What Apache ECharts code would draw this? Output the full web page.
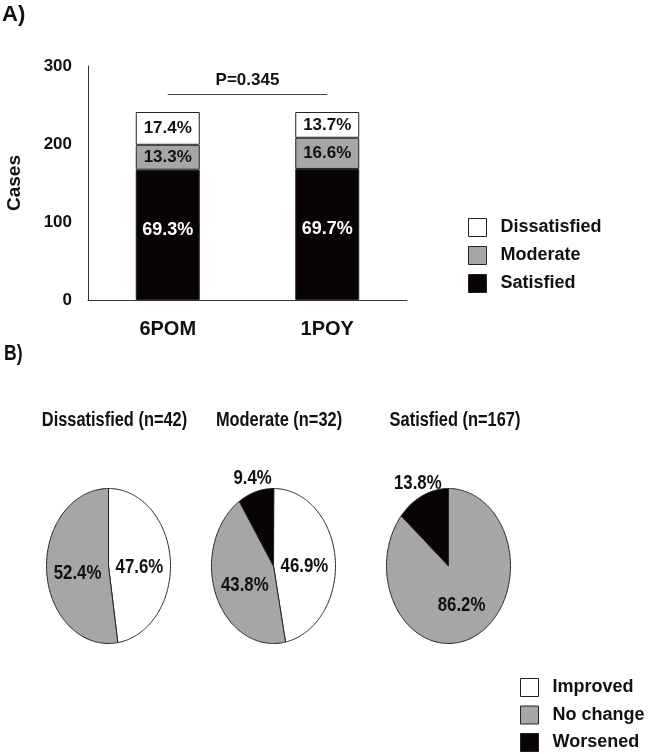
<!DOCTYPE html>
<html><head><meta charset="utf-8">
<script src="https://cdn.jsdelivr.net/npm/echarts@6/dist/echarts.min.js"></script>
<style>html,body{margin:0;padding:0;background:#fff}#c{width:649px;height:754px}</style>
</head><body><div id="c"></div>
<script>
// ---- data ----
const categories = ['6POM', '1POY'];
const satisfied = [167, 168];
const moderate = [32, 40];
const dissatisfied = [42, 33];
const yTicks = [0, 100, 200, 300];
const pValueText = 'P=0.345';
const pLineLevel = 264;
const pieTitles = ['Dissatisfied (n=42)', 'Moderate (n=32)', 'Satisfied (n=167)'];
const improvedPct = [47.6, 46.9, 0];
const noChangePct = [52.4, 43.8, 86.2];
const worsenedPct = [0, 9.4, 13.8];

// ---- layout / style ----
const FONT = '"Liberation Sans", Arial, sans-serif';
const BLACK = '#0a0304', GREY = '#a6a6a6', WHITE = '#ffffff', EDGE = '#222222';
const pieLayout = { cx: [108.5, 273.5, 448.5], cy: 566, rx: 62, ry: 77.5 };
const titleX = [114.5, 279, 455];

const totals = categories.map((c, i) => satisfied[i] + moderate[i] + dissatisfied[i]);
function pctFmt(p) { return (p.value / totals[p.dataIndex] * 100).toFixed(1) + '%'; }

function sliceData(vals, offs) {
  return vals.map((v, i) => [i, offs[i], offs[i] + v, v]).filter(d => d[3] > 0);
}
const offImproved = improvedPct.map(() => 0);
const offNoChange = improvedPct.slice();
const offWorsened = improvedPct.map((v, i) => v + noChangePct[i]);

function renderSlice(color) {
  return function (params, api) {
    const i = api.value(0), s = api.value(1), e = api.value(2), v = api.value(3);
    const cx = pieLayout.cx[i], cy = pieLayout.cy, rx = pieLayout.rx, ry = pieLayout.ry;
    const a0 = s / 100 * 2 * Math.PI, a1 = e / 100 * 2 * Math.PI;
    const n = Math.max(2, Math.ceil((a1 - a0) / (Math.PI / 180)));
    const pts = [[cx, cy]];
    for (let k = 0; k <= n; k++) {
      const a = a0 + (a1 - a0) * k / n;
      pts.push([cx + rx * Math.sin(a), cy - ry * Math.cos(a)]);
    }
    const mid = (a0 + a1) / 2;
    const f = v < 15 ? 1.18 : 0.5;
    const lx = cx + rx * f * Math.sin(mid);
    const ly = cy - ry * f * Math.cos(mid) + (v < 15 ? 0 : 4);
    return {
      type: 'group',
      children: [
        { type: 'polygon', shape: { points: pts }, style: { fill: color, stroke: EDGE, lineWidth: 1 } },
        { type: 'text', x: lx, y: ly, scaleX: 0.8, z2: 10,
          style: { text: v.toFixed(1) + '%', font: 'bold 21px ' + FONT, fill: '#111', align: 'center', verticalAlign: 'middle' } }
      ]
    };
  };
}

const chart = echarts.init(document.getElementById('c'));
const option = {
  animation: false,
  textStyle: { fontFamily: FONT },
  grid: { left: 88, top: 66, width: 319, height: 234 },
  xAxis: {
    type: 'category', data: categories,
    axisTick: { show: false },
    axisLine: { lineStyle: { color: '#333', width: 1 } },
    axisLabel: { margin: 19, fontSize: 20, fontWeight: 'bold', color: '#111' }
  },
  yAxis: {
    type: 'value', min: yTicks[0], max: yTicks[yTicks.length - 1], interval: yTicks[1] - yTicks[0],
    name: 'Cases', nameLocation: 'middle', nameRotate: 90, nameGap: 64,
    nameTextStyle: { fontSize: 19, fontWeight: 'bold', color: '#111' },
    axisLine: { show: true, lineStyle: { color: '#333', width: 1 } },
    axisTick: { show: false }, splitLine: { show: false },
    axisLabel: { margin: 16, fontSize: 17, fontWeight: 'bold', color: '#111' }
  },
  legend: [
    {
      data: ['Dissatisfied', 'Moderate', 'Satisfied'], orient: 'vertical', left: 468, top: 218, padding: 0,
      itemWidth: 18, itemHeight: 18, itemGap: 9, icon: 'rect', selectedMode: false,
      itemStyle: { borderColor: EDGE, borderWidth: 1 },
      textStyle: { fontSize: 18, fontWeight: 'bold', color: '#111', padding: [0, 0, 0, 9] }
    },
    {
      data: ['Improved', 'No change', 'Worsened'], orient: 'vertical', left: 520, top: 678, padding: 0,
      itemWidth: 18, itemHeight: 18, itemGap: 8.5, icon: 'rect', selectedMode: false,
      itemStyle: { borderColor: EDGE, borderWidth: 1 },
      textStyle: { fontSize: 18, fontWeight: 'bold', color: '#111', padding: [0, 0, 0, 9] }
    }
  ],
  graphic: [
    { type: 'text', left: 2, top: 4, style: { text: 'A)', font: 'bold 22px ' + FONT, fill: '#111' } },
    { type: 'text', x: 4, y: 354, scaleX: 0.8, style: { text: 'B)', font: 'bold 22px ' + FONT, fill: '#111', verticalAlign: 'middle' } }
  ].concat(pieTitles.map((t, i) => ({
    type: 'text', x: titleX[i], y: 420, scaleX: 0.82,
    style: { text: t, font: 'bold 20px ' + FONT, fill: '#111', align: 'center', verticalAlign: 'middle' }
  }))),
  series: [
    {
      name: 'Satisfied', type: 'bar', stack: 'a', data: satisfied, barWidth: 64,
      itemStyle: { color: BLACK, borderColor: EDGE, borderWidth: 1 },
      label: { show: true, position: 'inside', offset: [0, -5], formatter: pctFmt, color: '#fff', fontSize: 18, fontWeight: 'bold' }
    },
    {
      name: 'Moderate', type: 'bar', stack: 'a', data: moderate, barWidth: 64,
      itemStyle: { color: GREY, borderColor: EDGE, borderWidth: 1 },
      label: { show: true, position: 'inside', formatter: pctFmt, color: '#111', fontSize: 17, fontWeight: 'bold' }
    },
    {
      name: 'Dissatisfied', type: 'bar', stack: 'a', data: dissatisfied, barWidth: 64,
      itemStyle: { color: WHITE, borderColor: EDGE, borderWidth: 1 },
      label: { show: true, position: 'inside', formatter: pctFmt, color: '#111', fontSize: 17, fontWeight: 'bold' },
      markLine: {
        silent: true, symbol: ['none', 'none'],
        lineStyle: { color: '#444', width: 1, type: 'solid' },
        label: { show: true, position: 'middle', formatter: pValueText, color: '#111', fontSize: 17, fontWeight: 'bold', distance: 5 },
        data: [[{ coord: [0, pLineLevel] }, { coord: [1, pLineLevel] }]]
      }
    },
    {
      name: 'Improved', type: 'custom', coordinateSystem: 'none', renderItem: renderSlice(WHITE),
      itemStyle: { color: WHITE, borderColor: EDGE, borderWidth: 1 },
      data: sliceData(improvedPct, offImproved)
    },
    {
      name: 'No change', type: 'custom', coordinateSystem: 'none', renderItem: renderSlice(GREY),
      itemStyle: { color: GREY, borderColor: EDGE, borderWidth: 1 },
      data: sliceData(noChangePct, offNoChange)
    },
    {
      name: 'Worsened', type: 'custom', coordinateSystem: 'none', renderItem: renderSlice(BLACK),
      itemStyle: { color: BLACK, borderColor: EDGE, borderWidth: 1 },
      data: sliceData(worsenedPct, offWorsened)
    }
  ]
};
chart.setOption(option);
</script></body></html>
